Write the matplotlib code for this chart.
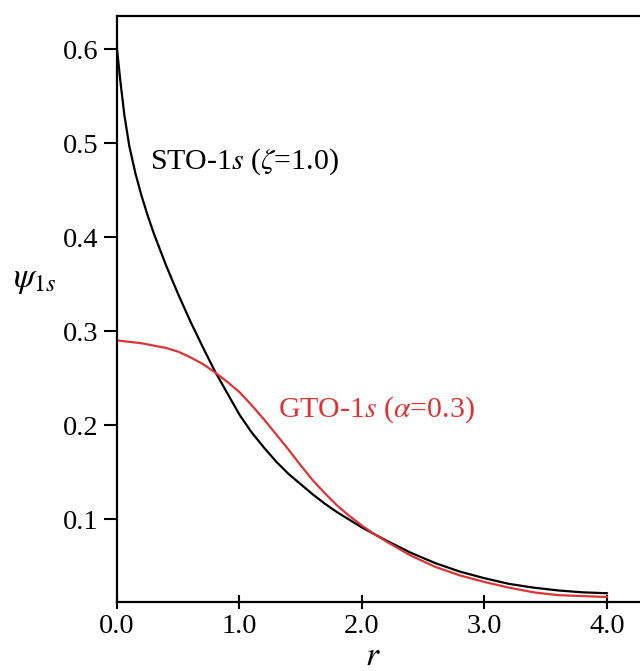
import matplotlib
matplotlib.use('Agg')
import matplotlib.pyplot as plt

plt.rcParams['font.family'] = ['Liberation Serif', 'DejaVu Serif']
plt.rcParams['mathtext.fontset'] = 'stix'

# values
r_sto = [0.0, 0.03, 0.06, 0.10, 0.15, 0.20, 0.25, 0.30, 0.40, 0.50, 0.60, 0.70,
         0.80, 0.90, 1.00, 1.10, 1.20, 1.30, 1.40, 1.50, 1.60, 1.70, 1.80, 1.90,
         2.00, 2.20, 2.40, 2.60, 2.80, 3.00, 3.20, 3.40, 3.60, 3.80, 4.00]
psi_sto = [0.600, 0.563, 0.530, 0.497, 0.468, 0.444, 0.423, 0.404, 0.370, 0.339, 0.310, 0.283,
           0.257, 0.234, 0.211, 0.192, 0.176, 0.161, 0.148, 0.137, 0.126, 0.116, 0.107, 0.099,
           0.091, 0.077, 0.064, 0.053, 0.044, 0.037, 0.031, 0.027, 0.024, 0.022, 0.021]

r_gto = [0.0, 0.2, 0.4, 0.5, 0.6, 0.7, 0.8, 0.9, 1.0, 1.1, 1.2, 1.3, 1.4, 1.5,
         1.6, 1.7, 1.8, 1.9, 2.0, 2.1, 2.2, 2.4, 2.6, 2.8, 3.0, 3.2, 3.4, 3.6, 3.8, 4.0]
psi_gto = [0.290, 0.287, 0.282, 0.278, 0.272, 0.265, 0.256, 0.246, 0.235, 0.221, 0.206, 0.190,
           0.174, 0.157, 0.141, 0.127, 0.114, 0.103, 0.093, 0.084, 0.076, 0.061, 0.049, 0.040,
           0.033, 0.027, 0.022, 0.019, 0.018, 0.017]

x_ticks = [0.0, 1.0, 2.0, 3.0, 4.0]
y_ticks = [0.1, 0.2, 0.3, 0.4, 0.5, 0.6]

red = '#dc3434'
W, H = 640, 671

fig = plt.figure(figsize=(6.40, 6.71), dpi=100)
ax = fig.add_axes([117 / W, 1 - 602 / H, 1 - 117 / W, (602 - 15.5) / H])

ax.plot(r_sto, psi_sto, color='black', linewidth=1.6)
ax.plot(r_gto, psi_gto, color=red, linewidth=1.6)

ax.set_xlim(0, 4.27)
ax.set_ylim(0.0117, 0.6357)
ax.set_xticks(x_ticks)
ax.set_xticklabels(['%.1f' % v for v in x_ticks])
ax.set_yticks(y_ticks)
ax.set_yticklabels(['%.1f' % v for v in y_ticks])

for s in ['left', 'bottom', 'top']:
    ax.spines[s].set_linewidth(1.6)
ax.spines['right'].set_visible(False)

ax.tick_params(axis='y', direction='out', length=9.4, width=1.5, labelsize=20.5, pad=4)
ax.tick_params(axis='x', direction='inout', length=9.4, width=1.5, labelsize=20.5, pad=4)

fig.text(150 / W, 1 - 162 / H, r'STO-1$s$ ($\zeta$=1.0)', fontsize=21.5,
         ha='left', va='center', color='black')
fig.text(278 / W, 1 - 410 / H, r'GTO-1$s$ ($\alpha$=0.3)', fontsize=21.5,
         ha='left', va='center', color=red)

fig.text(35 / W, 1 - 280 / H, r'$\psi_{1s}$', fontsize=25, ha='center', va='center')
fig.text(373 / W, 1 - 665 / H, r'$r$', fontsize=24, ha='center', va='baseline')

fig.savefig('out.png', dpi=100, facecolor='white')
